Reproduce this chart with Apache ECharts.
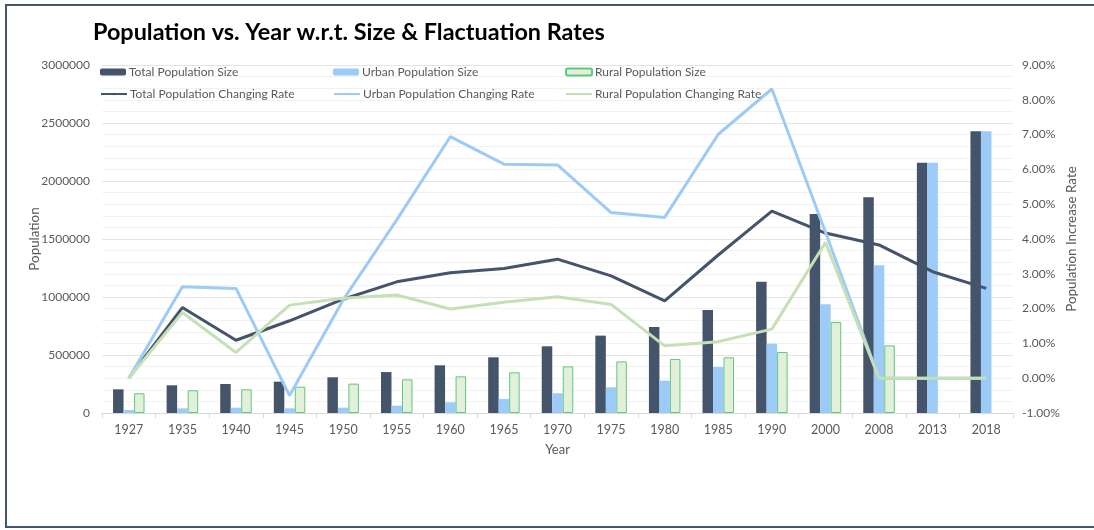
<!DOCTYPE html>
<html>
<head>
<meta charset="utf-8">
<script src="https://cdn.jsdelivr.net/npm/echarts@6/dist/echarts.min.js"></script>
<style>
html,body{margin:0;padding:0;background:#fff;}
#chart{width:1094px;height:530px;}
</style>
</head>
<body>
<div id="chart"></div>
<script>
const years = ['1927','1935','1940','1945','1950','1955','1960','1965','1970','1975','1980','1985','1990','2000','2008','2013','2018'];
const totalPop = [204000, 239000, 250000, 270000, 308000, 353000, 411000, 480000, 575000, 667000, 741000, 888000, 1132000, 1716000, 1859000, 2158000, 2428000];
const urbanPop = [26000, 40000, 46000, 40000, 46000, 63000, 92000, 121000, 170000, 221000, 279000, 397000, 598000, 937000, 1273000, 2158000, 2428000];
const ruralPop = [170000, 196000, 204000, 227000, 253000, 290000, 316000, 351000, 402000, 445000, 466000, 480000, 526000, 784000, 583000, null, null];
const totalRate = [0, 2.03, 1.09, 1.65, 2.27, 2.77, 3.03, 3.15, 3.42, 2.94, 2.22, 3.54, 4.80, 4.17, 3.83, 3.06, 2.58];
const urbanRate = [0, 2.63, 2.58, -0.50, 2.25, 4.55, 6.94, 6.15, 6.13, 4.76, 4.62, 7.01, 8.31, 4.20, 0, 0, 0];
const ruralRate = [0, 1.89, 0.74, 2.10, 2.30, 2.39, 1.99, 2.18, 2.34, 2.12, 0.93, 1.05, 1.41, 3.90, 0, 0, 0];
const popTicks = [0, 3000000, 500000];
const rateTicks = [-1, 9, 1];

const names = ['Total Population Size','Urban Population Size','Rural Population Size',
  'Total Population Changing Rate','Urban Population Changing Rate','Rural Population Changing Rate'];
const C_TOTAL = '#44546a', C_URBAN = '#9dcbf8', C_RURAL_FILL = '#e2efda', C_RURAL_BORDER = '#5dcb7c', C_RURAL_LINE = '#c5e0b4';
const FONT = 'Lato';
const labelColor = '#595959';

const legendPos = [[100,66],[333,66],[565,66],[100,88],[333,88],[565,88]];
const legends = names.map((n,i)=>({
  data:[n], left:legendPos[i][0], top:legendPos[i][1], orient:'horizontal',
  itemWidth:26, itemHeight: i<3 ? 7 : 3, itemGap:0, padding:0,
  selectedMode:false,
  textStyle:{fontFamily:FONT, fontSize:12, color:labelColor, padding:[0,0,0,-2]}
}));

const chart = echarts.init(document.getElementById('chart'), null, {renderer:'canvas'});
chart.setOption({
  backgroundColor:'#fff',
  animation:false,
  title:{text:'Population vs. Year w.r.t. Size & Flactuation Rates', left:88, top:16,
    textStyle:{fontFamily:FONT, fontWeight:'bold', fontSize:23.4, color:'#000'}},
  legend: legends,
  graphic:[{type:'rect', shape:{x:6, y:5, width:1100, height:522}, style:{fill:'none', stroke:'#44546a', lineWidth:2}, silent:true}],
  grid:{left:102, right:81, top:65, bottom:117, containLabel:false},
  xAxis:{type:'category', data:years, name:'Year', nameLocation:'middle', nameGap:30, nameMoveOverlap:false,
    nameTextStyle:{fontFamily:FONT, fontSize:13, color:labelColor},
    axisLine:{lineStyle:{color:'#d9d9d9'}}, axisTick:{show:true, length:5, lineStyle:{color:'#d9d9d9'}},
    axisLabel:{interval:0, margin:10, fontFamily:FONT, fontSize:12.5, color:labelColor}},
  yAxis:[
    {type:'value', min:popTicks[0], max:popTicks[1], interval:popTicks[2], name:'Population', nameLocation:'middle', nameGap:61, nameMoveOverlap:false,
     nameTextStyle:{fontFamily:FONT, fontSize:13.4, color:labelColor},
     axisLine:{show:false}, axisTick:{show:false},
     axisLabel:{margin:12, fontFamily:FONT, fontSize:12, color:labelColor, formatter:v=>String(v)},
     splitLine:{show:true, lineStyle:{color:'#e4e4e4', width:1}},
     minorTick:{show:false, splitNumber:5},
     minorSplitLine:{show:true, lineStyle:{color:'#f2f2f2', width:1}}},
    {type:'value', min:rateTicks[0], max:rateTicks[1], interval:rateTicks[2], name:'Population Increase Rate', nameLocation:'middle', nameGap:52, nameMoveOverlap:false,
     nameTextStyle:{fontFamily:FONT, fontSize:13.4, color:labelColor},
     axisLine:{show:false}, axisTick:{show:false},
     axisLabel:{margin:9, fontFamily:FONT, fontSize:12, color:labelColor, formatter:v=>v.toFixed(2)+'%'},
     splitLine:{show:false}}
  ],
  series:[
    {name:names[0], type:'bar', data:totalPop, barWidth:10.5, barGap:'0%', itemStyle:{color:C_TOTAL}},
    {name:names[1], type:'bar', data:urbanPop, barWidth:10.5, barGap:'0%', itemStyle:{color:C_URBAN}},
    {name:names[2], type:'bar', data:ruralPop, barWidth:10.5, barGap:'0%', itemStyle:{color:C_RURAL_FILL, borderColor:C_RURAL_BORDER, borderWidth:1}},
    {name:names[3], type:'line', yAxisIndex:1, data:totalRate, symbol:'none', lineStyle:{color:C_TOTAL, width:3}, itemStyle:{color:C_TOTAL}, z:3},
    {name:names[4], type:'line', yAxisIndex:1, data:urbanRate, symbol:'none', lineStyle:{color:C_URBAN, width:3}, itemStyle:{color:C_URBAN}, z:3},
    {name:names[5], type:'line', yAxisIndex:1, data:ruralRate, symbol:'none', lineStyle:{color:C_RURAL_LINE, width:3}, itemStyle:{color:C_RURAL_LINE}, z:3}
  ]
});
</script>
</body>
</html>
